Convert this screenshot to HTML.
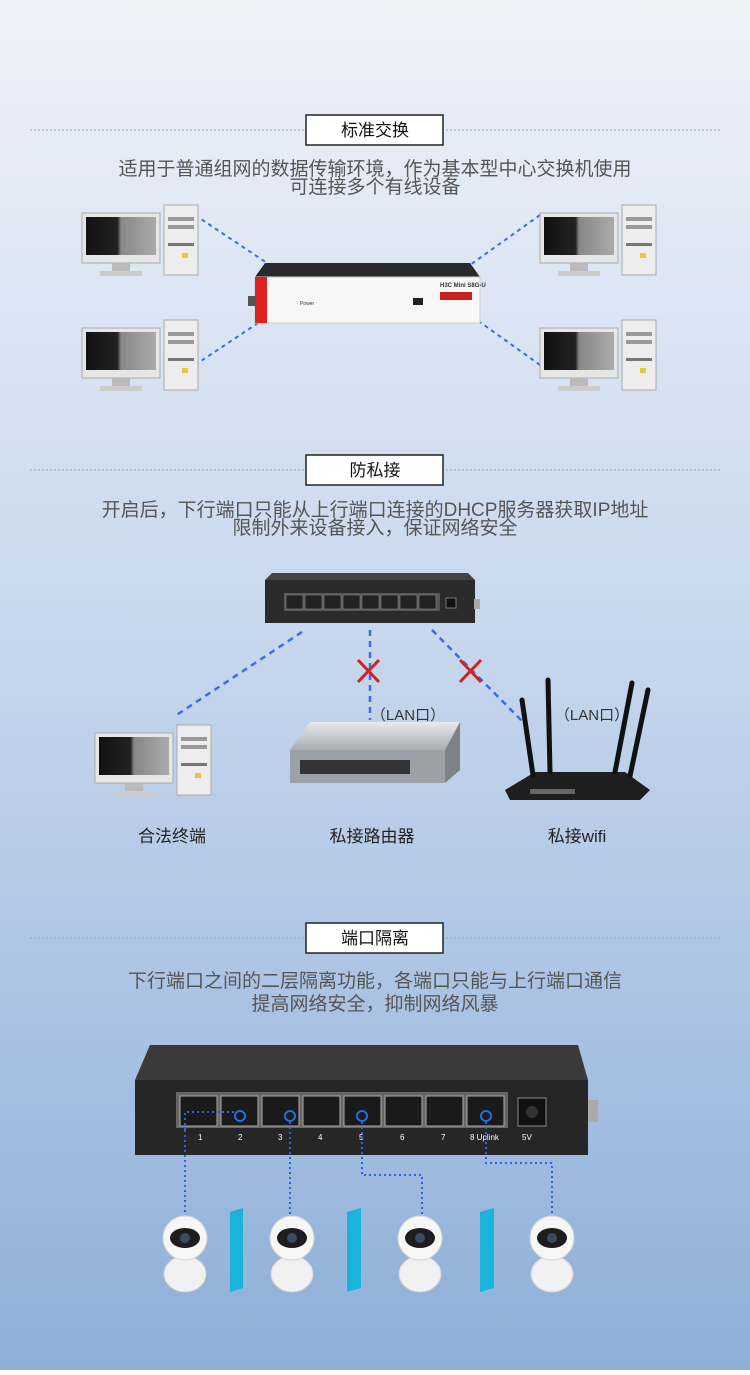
<!DOCTYPE html>
<html><head><meta charset="utf-8"><style>
html,body{margin:0;padding:0}
body{width:750px;height:1370px;overflow:hidden;font-family:"Liberation Sans","Noto Sans CJK SC",sans-serif}
svg text{font-family:"Liberation Sans","Noto Sans CJK SC",sans-serif}
</style></head><body>
<svg width="750" height="1370" viewBox="0 0 750 1370" xmlns="http://www.w3.org/2000/svg">
<defs>
<linearGradient id="bg" x1="0" y1="0" x2="0" y2="1">
<stop offset="0" stop-color="#eef2f9"/><stop offset="0.45" stop-color="#c9d8ee"/><stop offset="1" stop-color="#8eafd9"/>
</linearGradient>
<linearGradient id="scr" x1="0" y1="0" x2="1" y2="0">
<stop offset="0" stop-color="#111"/><stop offset="0.45" stop-color="#222"/><stop offset="0.5" stop-color="#888"/><stop offset="1" stop-color="#aaa"/>
</linearGradient>
<linearGradient id="silver" x1="0" y1="0" x2="0" y2="1">
<stop offset="0" stop-color="#e8e9ec"/><stop offset="1" stop-color="#a9adb4"/>
</linearGradient>
<g id="pc">
<rect x="0" y="0" width="78" height="50" fill="#e6e6e6" stroke="#aaa"/>
<rect x="4" y="4" width="70" height="38" fill="url(#scr)"/>
<rect x="30" y="50" width="18" height="8" fill="#bbb"/>
<rect x="18" y="58" width="42" height="5" fill="#ccc"/>
<rect x="82" y="-8" width="34" height="70" fill="#ededed" stroke="#aaa"/>
<rect x="86" y="4" width="26" height="4" fill="#999"/>
<rect x="86" y="12" width="26" height="4" fill="#999"/>
<rect x="86" y="30" width="26" height="3" fill="#777"/>
<rect x="100" y="40" width="6" height="5" fill="#e8c93a"/>
</g>
<g id="cam">
<ellipse cx="22" cy="62" rx="21" ry="18" fill="#f1f1f1" stroke="#d0d0d0"/>
<circle cx="22" cy="26" r="22" fill="#f6f6f6" stroke="#d5d5d5"/>
<ellipse cx="22" cy="26" rx="15" ry="10" fill="#1d1d1d"/>
<circle cx="22" cy="26" r="5" fill="#3a4a66"/>
</g>
</defs>
<rect width="750" height="1370" fill="url(#bg)"/>

<!-- Section 1 -->
<line x1="30" y1="130" x2="720" y2="130" stroke="#9aa" stroke-dasharray="2,2"/>
<rect x="306" y="115" width="137" height="30" fill="#fff" stroke="#222" stroke-width="1.5"/>
<text x="375" y="136" font-size="17" text-anchor="middle" fill="#111">标准交换</text>
<text x="375" y="175" font-size="19" text-anchor="middle" fill="#555">适用于普通组网的数据传输环境，作为基本型中心交换机使用</text>
<text x="375" y="193" font-size="19" text-anchor="middle" fill="#555">可连接多个有线设备</text>
<g stroke="#3b6fe0" stroke-width="2" stroke-dasharray="4,4">
<line x1="195" y1="215" x2="270" y2="265"/><line x1="195" y1="365" x2="270" y2="315"/>
<line x1="540" y1="215" x2="470" y2="265"/><line x1="540" y1="365" x2="470" y2="315"/>
</g>
<use href="#pc" x="82" y="213"/><use href="#pc" x="82" y="328"/>
<use href="#pc" x="540" y="213"/><use href="#pc" x="540" y="328"/>
<polygon points="265,263 470,263 480,277 255,277" fill="#2a2a2a"/>
<rect x="255" y="277" width="225" height="46" fill="#f7f7f7" stroke="#ccc"/>
<rect x="255" y="277" width="12" height="46" fill="#d22"/>
<rect x="248" y="296" width="8" height="10" fill="#555"/>
<text x="440" y="287" font-size="6" fill="#333" font-weight="bold">H3C Mini S8G-U</text>
<rect x="440" y="292" width="32" height="8" fill="#c22"/>
<text x="300" y="305" font-size="5" fill="#333">Power</text>
<rect x="413" y="298" width="10" height="7" fill="#222"/>

<!-- Section 2 -->
<line x1="30" y1="470" x2="720" y2="470" stroke="#9aa" stroke-dasharray="2,2"/>
<rect x="306" y="455" width="137" height="30" fill="#fff" stroke="#222" stroke-width="1.5"/>
<text x="375" y="476" font-size="17" text-anchor="middle" fill="#111">防私接</text>
<text x="375" y="516" font-size="19" text-anchor="middle" fill="#555">开启后，下行端口只能从上行端口连接的DHCP服务器获取IP地址</text>
<text x="375" y="534" font-size="19" text-anchor="middle" fill="#555">限制外来设备接入，保证网络安全</text>
<polygon points="272,573 468,573 475,580 265,580" fill="#444"/>
<rect x="265" y="580" width="210" height="43" fill="#2b2b2b"/>
<rect x="284" y="593" width="156" height="18" fill="#555"/>
<g fill="#222" stroke="#999" stroke-width=".5">
<rect x="286" y="595" width="17" height="14"/><rect x="305" y="595" width="17" height="14"/><rect x="324" y="595" width="17" height="14"/><rect x="343" y="595" width="17" height="14"/><rect x="362" y="595" width="17" height="14"/><rect x="381" y="595" width="17" height="14"/><rect x="400" y="595" width="17" height="14"/><rect x="419" y="595" width="17" height="14"/>
</g>
<rect x="446" y="598" width="10" height="10" fill="#111" stroke="#777"/>
<rect x="474" y="599" width="6" height="10" fill="#aaa"/>
<g stroke="#3b6fe0" stroke-width="2.5" stroke-dasharray="6,5">
<line x1="302" y1="632" x2="175" y2="716"/>
<line x1="370" y1="630" x2="370" y2="720"/>
<line x1="432" y1="630" x2="525" y2="724"/>
</g>
<g stroke="#d42020" stroke-width="3">
<line x1="358" y1="660" x2="379" y2="682"/><line x1="379" y1="660" x2="358" y2="682"/>
<line x1="460" y1="660" x2="481" y2="682"/><line x1="481" y1="660" x2="460" y2="682"/>
</g>
<text x="408" y="720" font-size="15" text-anchor="middle" fill="#333">（LAN口）</text>
<text x="592" y="720" font-size="15" text-anchor="middle" fill="#333">（LAN口）</text>
<use href="#pc" x="95" y="733"/>
<polygon points="310,722 460,722 445,750 290,750" fill="url(#silver)"/>
<rect x="290" y="750" width="155" height="33" fill="#9ca0a7"/>
<polygon points="445,750 460,722 460,770 445,783" fill="#7d8188"/>
<rect x="300" y="760" width="110" height="14" fill="#333"/>
<polygon points="505,790 535,772 625,772 650,790 640,800 510,800" fill="#1e1e1e"/>
<g stroke="#111" stroke-width="5" stroke-linecap="round">
<line x1="533" y1="775" x2="522" y2="700"/><line x1="550" y1="772" x2="548" y2="680"/><line x1="615" y1="772" x2="632" y2="683"/><line x1="630" y1="776" x2="648" y2="690"/>
</g>
<rect x="530" y="789" width="45" height="5" fill="#666"/>
<text x="172" y="842" font-size="17" text-anchor="middle" fill="#222">合法终端</text>
<text x="372" y="842" font-size="17" text-anchor="middle" fill="#222">私接路由器</text>
<text x="577" y="842" font-size="17" text-anchor="middle" fill="#222">私接wifi</text>

<!-- Section 3 -->
<line x1="30" y1="938" x2="720" y2="938" stroke="#9aa" stroke-dasharray="2,2"/>
<rect x="306" y="923" width="137" height="30" fill="#fff" stroke="#222" stroke-width="1.5"/>
<text x="375" y="944" font-size="17" text-anchor="middle" fill="#111">端口隔离</text>
<text x="375" y="987" font-size="19" text-anchor="middle" fill="#555">下行端口之间的二层隔离功能，各端口只能与上行端口通信</text>
<text x="375" y="1010" font-size="19" text-anchor="middle" fill="#555">提高网络安全，抑制网络风暴</text>
<polygon points="150,1045 578,1045 588,1080 135,1080" fill="#3a3a3a"/>
<rect x="135" y="1080" width="453" height="75" fill="#262626"/>
<rect x="176" y="1092" width="332" height="36" fill="#666"/>
<g fill="#1a1a1a" stroke="#aaa" stroke-width="1">
<rect x="180" y="1096" width="37" height="30"/><rect x="221" y="1096" width="37" height="30"/><rect x="262" y="1096" width="37" height="30"/><rect x="303" y="1096" width="37" height="30"/><rect x="344" y="1096" width="37" height="30"/><rect x="385" y="1096" width="37" height="30"/><rect x="426" y="1096" width="37" height="30"/><rect x="467" y="1096" width="37" height="30"/>
</g>
<g fill="#fff" font-size="8">
<text x="198" y="1140">1</text><text x="238" y="1140">2</text><text x="278" y="1140">3</text><text x="318" y="1140">4</text><text x="359" y="1140">5</text><text x="400" y="1140">6</text><text x="441" y="1140">7</text><text x="470" y="1140">8 Uplink</text><text x="522" y="1140">5V</text>
</g>
<rect x="518" y="1098" width="28" height="28" fill="#111" stroke="#888"/>
<circle cx="532" cy="1112" r="6" fill="#333"/>
<rect x="588" y="1100" width="10" height="22" fill="#aaa"/>
<g fill="none" stroke="#1e6fe8" stroke-width="2">
<circle cx="240" cy="1116" r="5"/><circle cx="290" cy="1116" r="5"/><circle cx="362" cy="1116" r="5"/><circle cx="486" cy="1116" r="5"/>
</g>
<g fill="none" stroke="#2f62e0" stroke-width="2" stroke-dasharray="2,3">
<polyline points="185,1130 185,1112 236,1112"/>
<line x1="185" y1="1130" x2="185" y2="1215"/>
<line x1="290" y1="1122" x2="290" y2="1215"/>
<polyline points="362,1122 362,1175 422,1175 422,1215"/>
<polyline points="486,1122 486,1163 552,1163 552,1215"/>
</g>
<use href="#cam" x="163" y="1212"/><use href="#cam" x="270" y="1212"/><use href="#cam" x="398" y="1212"/><use href="#cam" x="530" y="1212"/>
<g fill="#1ab3d9">
<polygon points="230,1212 243,1208 243,1288 230,1292"/>
<polygon points="347,1212 361,1208 361,1288 347,1292"/>
<polygon points="480,1212 494,1208 494,1288 480,1292"/>
</g>
</svg>
</body></html>
